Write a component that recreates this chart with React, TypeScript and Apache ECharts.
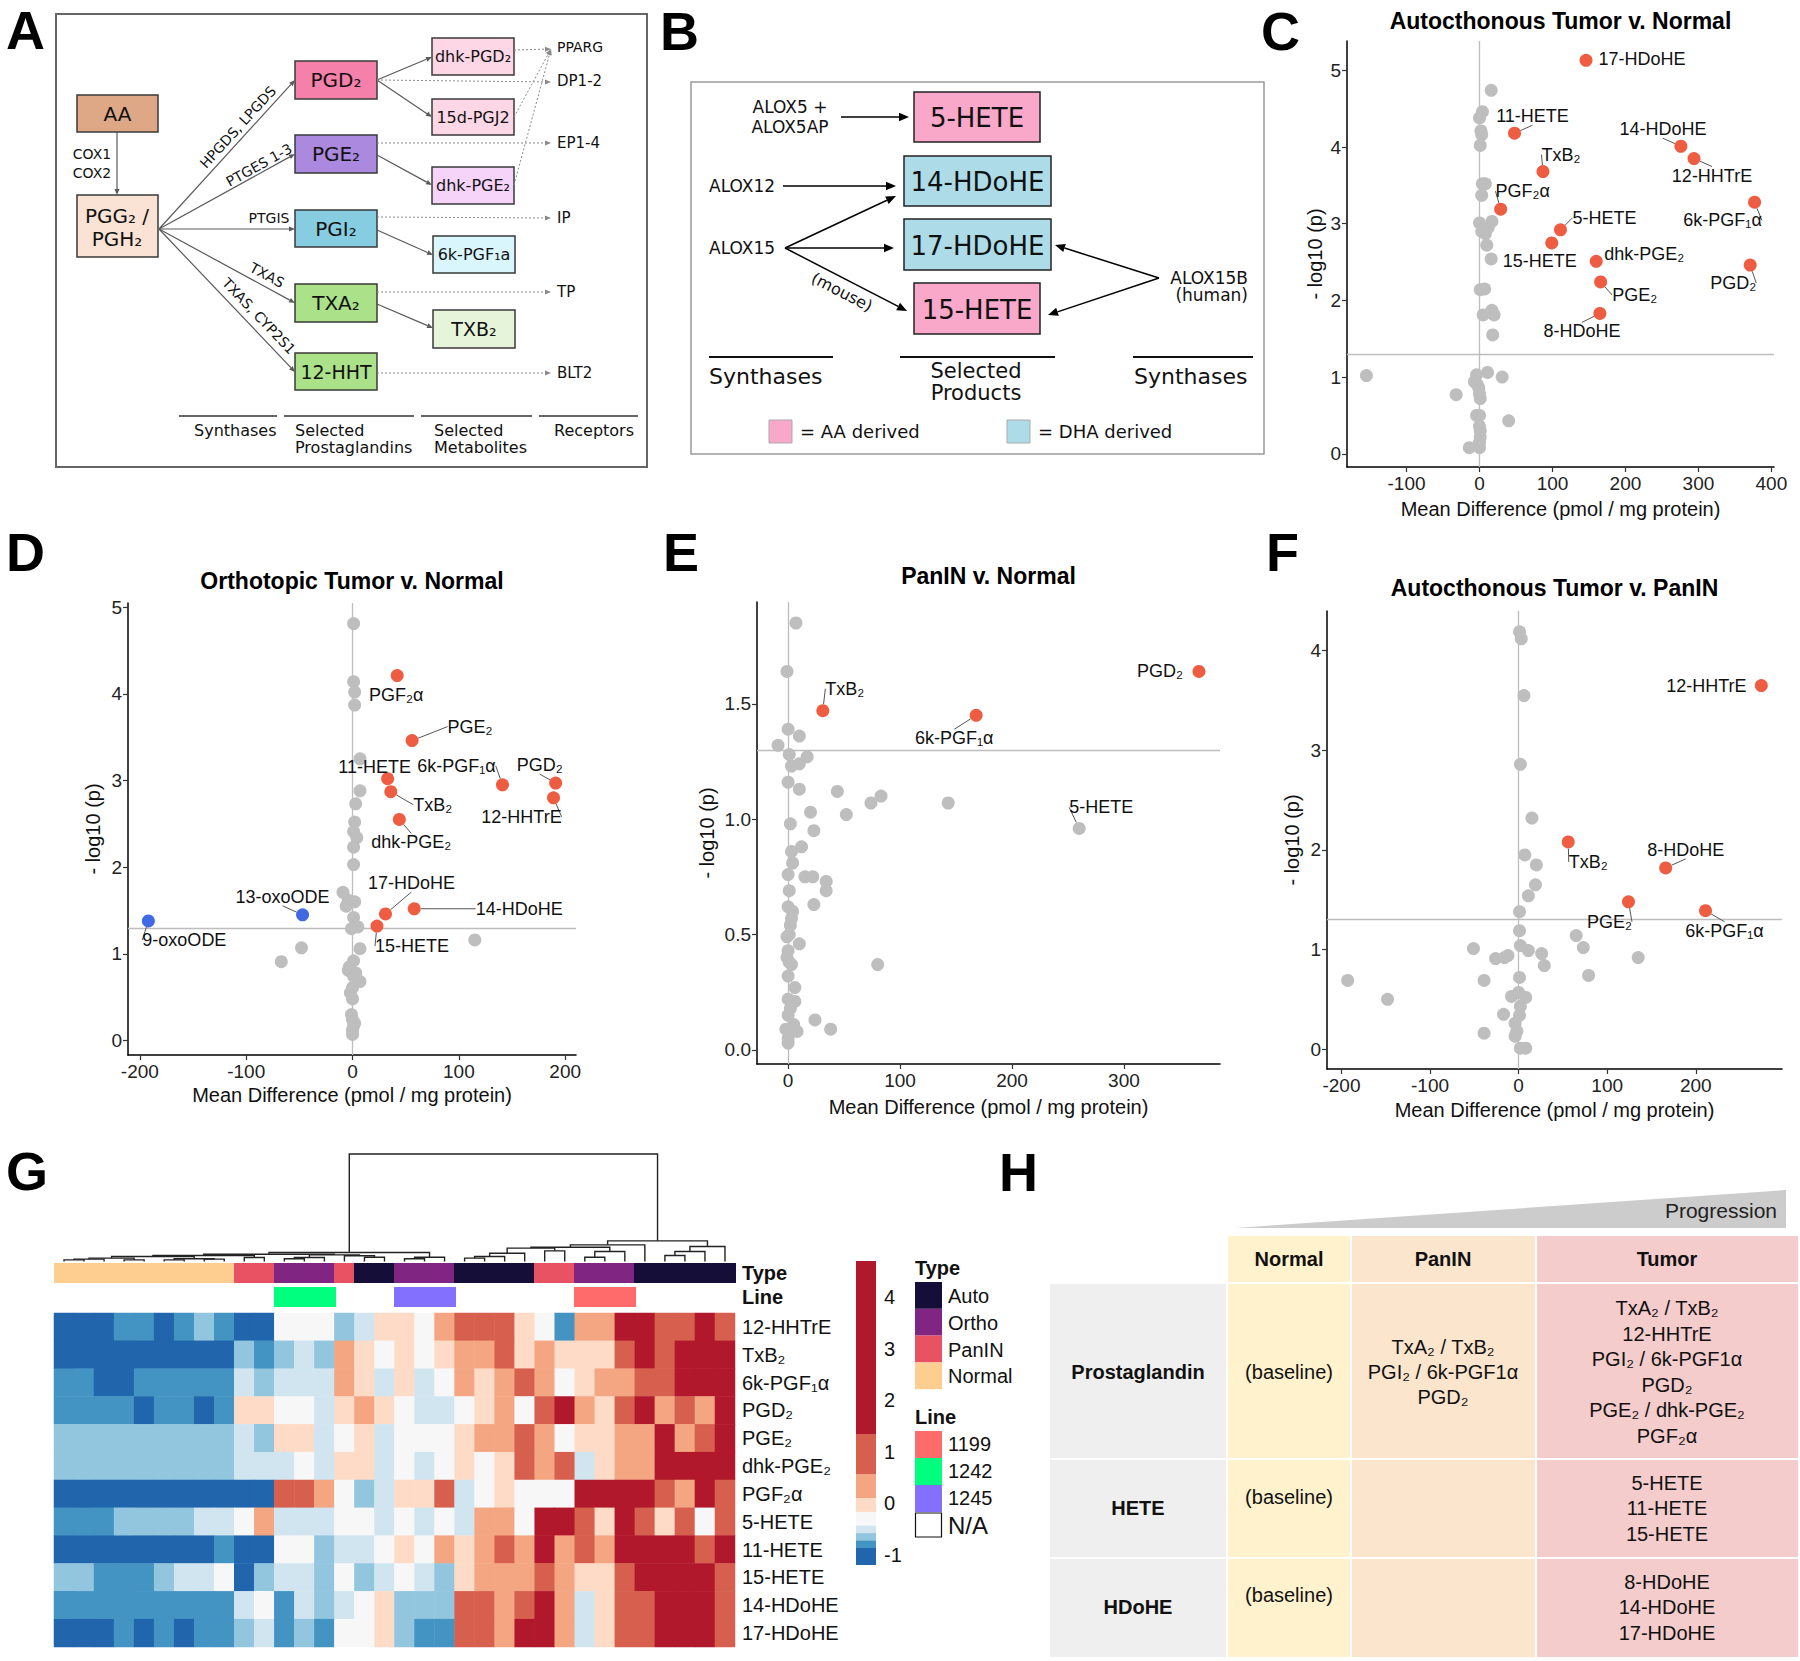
import React, { useEffect, useRef } from 'react';
import * as echarts from 'echarts';

const SANS = "'Liberation Sans', Arial, Helvetica, sans-serif";
const DJV = "'DejaVu Sans', sans-serif";
const RED = '#EE5C42';
const GRAY = '#BEBEBE';
const BLUE = '#4169E1';
const KIND_COLOR: any = { up: RED, down: BLUE, ns: GRAY };

// ---------------- Panel C: Autocthonous Tumor v. Normal ----------------
const cLabNames = ['17-HDoHE', '11-HETE', '14-HDoHE', '12-HHTrE', 'TxB₂', 'PGF₂α', '6k-PGF₁α', '5-HETE', '15-HETE', 'dhk-PGE₂', 'PGD₂', 'PGE₂', '8-HDoHE'];
const cLabX = [146, 48, 276, 294, 87, 29, 377, 111, 99, 160, 371, 166, 165];
const cLabY = [5.13, 4.18, 4.01, 3.85, 3.68, 3.19, 3.28, 2.92, 2.75, 2.51, 2.46, 2.24, 1.83];
const cLabKind = ['up', 'up', 'up', 'up', 'up', 'up', 'up', 'up', 'up', 'up', 'up', 'up', 'up'];
const cGrayX = [16, 4, 0, 2, 3, 1, 4, 8, 3, 0, 17, 12, 3, 8, 10, 16, 1, 7, 5, 17, 20, 18, -155, -4, 11, 31, -7, -3, -1, -32, 1, 0, -4, 0, 40, 0, 1, 1, 0, -14, 0];
const cGrayY = [4.74, 4.46, 4.38, 4.21, 4.16, 4.02, 3.52, 3.52, 3.37, 3.01, 3.03, 2.95, 2.90, 2.87, 2.72, 2.54, 2.14, 2.15, 1.81, 1.87, 1.81, 1.55, 1.02, 1.03, 1.06, 1.00, 0.94, 0.90, 0.86, 0.77, 0.72, 0.78, 0.50, 0.50, 0.43, 0.36, 0.30, 0.22, 0.15, 0.08, 0.08];
const cOffsets = [[56, -1, 0], [18, -17, 1], [-18, -17, 1], [18, 17, 1], [18, -17, 1], [22, -18, 1], [-32, 18, 1], [44, -12, 1], [-12, 18, 0], [48, -7, 0], [-17, 18, 1], [34, 13, 1], [-18, 18, 1]];

// ---------------- Panel D: Orthotopic Tumor v. Normal ----------------
const dLabNames = ['PGF₂α', 'PGE₂', '11-HETE', '6k-PGF₁α', 'PGD₂', 'TxB₂', '12-HHTrE', 'dhk-PGE₂', '17-HDoHE', '14-HDoHE', '15-HETE', '13-oxoODE', '9-oxoODE'];
const dLabX = [42, 56, 33, 141, 191, 36, 189, 44, 31, 58, 23, -47, -192];
const dLabY = [4.21, 3.46, 3.02, 2.95, 2.97, 2.87, 2.80, 2.55, 1.46, 1.52, 1.32, 1.45, 1.38];
const dLabKind = ['up', 'up', 'up', 'up', 'up', 'up', 'up', 'up', 'up', 'up', 'up', 'down', 'down'];
const dGrayX = [1, 1, 2, 2, 7, 7, 3, 2, 1, 4, 1, 1, -9, -4, 2, -6, 1, -1, 5, 115, -48, 7, -67, 1, -4, 1, 7, 0, 0, 0, 1, 0, 0, -3, 3, -2, 2, -1];
const dGrayY = [4.81, 4.14, 4.02, 3.87, 3.25, 2.88, 2.73, 2.52, 2.41, 2.34, 2.23, 2.03, 1.71, 1.62, 1.60, 1.55, 1.42, 1.29, 1.31, 1.16, 1.07, 1.06, 0.91, 0.92, 0.81, 0.74, 0.68, 0.61, 0.48, 0.24, 0.17, 0.07, 0.12, 0.85, 0.78, 0.55, 0.20, 0.30];
const dOffsets = [[-1, 19, 0], [58, -14, 1], [-13, -12, 0], [-46, -19, 1], [-16, -18, 1], [42, 13, 1], [-32, 19, 1], [12, 23, 1], [26, -31, 1], [105, 0, 1], [35, 20, 1], [-20, -18, 1], [36, 19, 1]];

// ---------------- Panel E: PanIN v. Normal ----------------
const eLabNames = ['TxB₂', '6k-PGF₁α', 'PGD₂', '5-HETE'];
const eLabX = [31, 168, 367, 260];
const eLabY = [1.47, 1.45, 1.64, 0.96];
const eLabKind = ['up', 'up', 'up', 'ns'];
const eGrayX = [7, -1, 0, 10, -9, 1, 17, 3, 10, 0, 10, 44, 74, 83, 143, 20, 52, 2, 23, 3, 12, 4, 0, 15, 22, 34, 34, 1, 23, 0, 4, 2, 1, -1, 10, 0, 1, 3, 80, 0, 6, 0, 6, 0, 24, 38, -2, 8, 0, 0, 3, -1, 2, 5];
const eGrayY = [1.85, 1.64, 1.39, 1.36, 1.32, 1.28, 1.27, 1.23, 1.24, 1.16, 1.13, 1.12, 1.07, 1.10, 1.07, 1.03, 1.02, 0.98, 0.95, 0.86, 0.88, 0.81, 0.76, 0.75, 0.75, 0.73, 0.69, 0.69, 0.63, 0.62, 0.60, 0.54, 0.50, 0.49, 0.46, 0.43, 0.38, 0.37, 0.37, 0.32, 0.27, 0.22, 0.21, 0.15, 0.13, 0.09, 0.09, 0.08, 0.05, 0.03, 0.57, 0.40, 0.18, 0.11];
const eOffsets = [[22, -22, 1], [-22, 23, 1], [-39, 0, 0], [22, -21, 1]];

// ---------------- Panel F: Autocthonous Tumor v. PanIN ----------------
const fLabNames = ['12-HHTrE', 'TxB₂', '8-HDoHE', 'PGE₂', '6k-PGF₁α'];
const fLabX = [274, 56, 166, 124, 211];
const fLabY = [3.65, 2.08, 1.82, 1.48, 1.39];
const fLabKind = ['up', 'up', 'up', 'up', 'up'];
const fGrayX = [1, 3, 6, 2, 15, 7, 20, 19, 11, 1, 1, 65, 73, -51, 2, 11, 26, -26, -16, -12, 29, 135, 79, 1, -193, -39, -148, -8, 8, 0, 2, -17, 1, -4, -39, -2, -4, 2, 8];
const fGrayY = [4.19, 4.12, 3.55, 2.86, 2.32, 1.95, 1.85, 1.65, 1.54, 1.38, 1.19, 1.14, 1.02, 1.01, 1.04, 0.99, 0.96, 0.91, 0.92, 0.94, 0.84, 0.92, 0.74, 0.72, 0.69, 0.69, 0.50, 0.53, 0.52, 0.57, 0.43, 0.35, 0.34, 0.26, 0.16, 0.18, 0.13, 0.01, 0.01];
const fOffsets = [[-55, 0, 0], [20, 20, 1], [20, -18, 1], [-19, 20, 1], [19, 20, 1]];

const P_THRESHOLD = -Math.log10(0.05);

// ---------------- Panel G: heatmap ----------------
const hmRows = ['12-HHTrE', 'TxB₂', '6k-PGF₁α', 'PGD₂', 'PGE₂', 'dhk-PGE₂', 'PGF₂α', '5-HETE', '11-HETE', '15-HETE', '14-HDoHE', '17-HDoHE'];
const hm12HHTrE = [-1, -1, -1, -0.8, -0.8, -1, -0.8, -0.65, -0.8, -1, -1, -0.3, -0.3, -0.3, -0.65, -0.5, 0, 0, -0.3, 0.3, 0.9, 0.9, 0.9, 0, -0.3, -0.8, 0.3, 0.3, 2.5, 2.5, 0.9, 0.9, 2.5, 0.9];
const hmTxB2 = [-1, -1, -1, -1, -1, -1, -1, -1, -1, -0.65, -0.8, -0.65, -0.5, -0.65, 0.3, 0, -0.3, 0, -0.3, 0, 0.3, 0.3, 0.9, 0, 0.3, 0, 0, 0, 0.9, 2.5, 0.9, 2.5, 2.5, 2.5];
const hm6kPGF1a = [-0.8, -0.8, -1, -1, -0.8, -0.8, -0.8, -0.8, -0.8, -0.5, -0.65, -0.5, -0.5, -0.5, 0.3, 0, -0.5, 0, -0.5, -0.3, 0.3, 0, 0.3, 0.9, 0.3, -0.3, 0, 0.3, 0.3, 0.9, 0.9, 2.5, 2.5, 2.5];
const hmPGD2 = [-0.8, -0.8, -0.8, -0.8, -1, -0.8, -0.8, -1, -0.8, 0, 0, -0.3, -0.3, -0.5, 0, 0.3, 0, -0.3, -0.5, -0.5, -0.3, 0, 0.3, -0.3, 0.9, 2.5, 0.3, 0, 0.9, 2.5, 0.3, 0.9, 0.3, 2.5];
const hmPGE2 = [-0.65, -0.65, -0.65, -0.65, -0.65, -0.65, -0.65, -0.65, -0.65, -0.5, -0.65, 0, 0, -0.5, -0.3, 0, -0.5, -0.3, -0.3, -0.3, 0, 0.3, 0.3, 0.9, 0.3, -0.3, 0, 0, 0.3, 0.3, 2.5, 0.3, 0.9, 2.5];
const hmDhkPGE2 = [-0.65, -0.65, -0.65, -0.65, -0.65, -0.65, -0.65, -0.65, -0.65, -0.5, -0.5, -0.5, -0.3, -0.5, 0, 0, -0.5, -0.3, -0.5, -0.3, 0, -0.3, 0, 0.9, 0.3, 0.9, -0.5, 0, 0.3, 0.3, 2.5, 2.5, 2.5, 2.5];
const hmPGF2a = [-1, -1, -1, -1, -1, -1, -1, -1, -1, -1, -1, 0.9, 0.9, 0.3, -0.3, -0.65, -0.5, 0, 0, 0.9, -0.5, -0.3, 0, -0.3, -0.3, -0.3, 2.5, 2.5, 2.5, 2.5, 0.9, 0.3, 2.5, 0.9];
const hm5HETE = [-0.8, -0.8, -0.8, -0.65, -0.65, -0.65, -0.65, -0.5, -0.5, -0.3, 0.3, -0.5, -0.5, -0.5, -0.3, -0.3, -0.5, -0.3, -0.5, -0.3, -0.5, 0.3, 0.3, -0.3, 2.5, 2.5, 0.9, 0, 2.5, 0.9, 0, 0.9, -0.3, 0.9];
const hm11HETE = [-1, -1, -1, -1, -1, -1, -1, -1, -0.8, -1, -1, -0.3, -0.3, -0.65, -0.5, -0.5, -0.3, 0, -0.3, 0.3, 0, 0.3, 0.9, 0.3, 2.5, 0.3, 0.9, 0.3, 2.5, 2.5, 2.5, 2.5, 0.9, 2.5];
const hm15HETE = [-0.65, -0.65, -0.8, -0.8, -0.8, -0.65, -0.5, -0.5, -0.3, -1, -0.65, -0.5, -0.5, -0.65, -0.3, -0.65, -0.5, -0.3, -0.5, -0.65, 0, 0.3, 0.3, 0.3, 0.9, 0.3, 0, 0, 0.9, 2.5, 2.5, 2.5, 2.5, 0.9];
const hm14HDoHE = [-0.8, -0.8, -0.8, -0.8, -0.8, -0.8, -0.8, -0.8, -0.8, -0.5, -0.3, -0.8, -0.5, -0.65, -0.5, -0.3, 0, -0.65, -0.65, -0.65, 0.9, 0.9, 0.3, 0.9, 2.5, 0.3, -0.5, 0, 0.9, 0.9, 2.5, 2.5, 2.5, 0.9];
const hm17HDoHE = [-1, -1, -1, -0.8, -1, -0.8, -1, -0.8, -0.8, -0.65, -0.5, -0.8, -0.65, -0.8, -0.3, -0.3, 0, -0.65, -0.8, -0.8, 0.9, 0.9, 0.3, 2.5, 2.5, 0.3, -0.5, 0, 0.9, 0.9, 2.5, 2.5, 2.5, 0.9];
const hmMatrix = [hm12HHTrE, hmTxB2, hm6kPGF1a, hmPGD2, hmPGE2, hmDhkPGE2, hmPGF2a, hm5HETE, hm11HETE, hm15HETE, hm14HDoHE, hm17HDoHE];

const sampleType = ['Normal', 'Normal', 'Normal', 'Normal', 'Normal', 'Normal', 'Normal', 'Normal', 'Normal', 'PanIN', 'PanIN', 'Ortho', 'Ortho', 'Ortho', 'PanIN', 'Auto', 'Auto', 'Ortho', 'Ortho', 'Ortho', 'Auto', 'Auto', 'Auto', 'Auto', 'PanIN', 'PanIN', 'Ortho', 'Ortho', 'Ortho', 'Auto', 'Auto', 'Auto', 'Auto', 'Auto'];
const sampleLine = ['N/A', 'N/A', 'N/A', 'N/A', 'N/A', 'N/A', 'N/A', 'N/A', 'N/A', 'N/A', 'N/A', '1242', '1242', '1242', 'N/A', 'N/A', 'N/A', '1245', '1245', '1245', 'N/A', 'N/A', 'N/A', 'N/A', 'N/A', 'N/A', '1199', '1199', '1199', 'N/A', 'N/A', 'N/A', 'N/A', 'N/A'];
const typeNames = ['Auto', 'Ortho', 'PanIN', 'Normal'];
const lineNames = ['1199', '1242', '1245', 'N/A'];
const TYPE_COLOR: any = { Auto: '#150E38', Ortho: '#802582', PanIN: '#E85262', Normal: '#FECD90' };
const LINE_COLOR: any = { '1199': '#FF6A6A', '1242': '#00FF7F', '1245': '#8470FF', 'N/A': 'rgba(255,255,255,0)' };

// column dendrogram: [left node, right node, height]; leaves 0..33, merge k = node 34+k
const dendroMerges = [
  [0, 1, 1.5], [34, 2, 2.2], [3, 4, 1.5], [35, 36, 3.1], [5, 6, 1.5], [7, 8, 2.2], [38, 39, 2.5], [37, 40, 4.6], [9, 10, 3.7], [41, 42, 5.6],
  [11, 12, 2.5], [44, 13, 3.7], [15, 16, 4.0], [14, 46, 5.3], [45, 47, 6.2], [43, 48, 6.8], [17, 18, 2.5], [50, 19, 4.0], [49, 51, 8.4],
  [20, 21, 3.1], [53, 22, 4.6], [54, 23, 7.7], [24, 25, 9.9], [55, 56, 12.4], [26, 27, 4.0], [58, 28, 9.3], [57, 59, 13.3], [60, 29, 15.5],
  [30, 31, 5.6], [62, 32, 9.3], [63, 33, 13.9], [61, 64, 19.2], [52, 65, 100],
];

const cbBreaks = [-1.2, -0.87, -0.72, -0.58, -0.43, -0.17, 0.1, 0.56, 1.34, 4.7];
const cbColors = ['#2166AC', '#4393C3', '#92C5DE', '#D1E5F0', '#F7F7F7', '#FDDBC7', '#F4A582', '#D6604D', '#B2182B'];
const cbTicks = [-1, 0, 1, 2, 3, 4];

// ---------------- helpers ----------------
function T(x: number, y: number, text: string, size: number, o: any = {}) {
  const align = o.align || 'center';
  const va = o.va || 'middle';
  const style: any = {
    text, fill: o.color || '#111',
    font: `${o.bold ? 'bold ' : ''}${size}px ${o.family || SANS}`,
    textAlign: align, textVerticalAlign: va, align, verticalAlign: va,
  };
  if (o.lh) style.lineHeight = o.lh;
  return { type: 'text', x, y, rotation: o.rot ? (o.rot * Math.PI) / 180 : 0, silent: true, z: 10, style };
}
function RECT(x: number, y: number, w: number, h: number, fill: string, stroke?: string, lw?: number) {
  const style: any = { fill };
  if (stroke) { style.stroke = stroke; style.lineWidth = lw || 1; }
  return { type: 'rect', silent: true, z: 5, shape: { x, y, width: w, height: h }, style };
}
function LINE(x1: number, y1: number, x2: number, y2: number, color: string, lw: number, dash?: number[]) {
  const style: any = { stroke: color, lineWidth: lw };
  if (dash) style.lineDash = dash;
  return { type: 'line', silent: true, z: 6, shape: { x1, y1, x2, y2 }, style };
}
function ARROW(x1: number, y1: number, x2: number, y2: number, color: string, lw: number, dash?: number[], head = 7) {
  const a = Math.atan2(y2 - y1, x2 - x1);
  const bx = x2 - head * Math.cos(a);
  const by = y2 - head * Math.sin(a);
  const w = head * 0.42;
  const nx = -Math.sin(a) * w;
  const ny = Math.cos(a) * w;
  return [
    LINE(x1, y1, bx, by, color, lw, dash),
    { type: 'polygon', silent: true, z: 6, shape: { points: [[x2, y2], [bx + nx, by + ny], [bx - nx, by - ny]] }, style: { fill: color } },
  ];
}

function buildOption() {
  const grid: any[] = [];
  const xAxis: any[] = [];
  const yAxis: any[] = [];
  const series: any[] = [];
  const els: any[] = [];

  // ---------- volcano panels ----------
  const panels = [
    { title: 'Autocthonous Tumor v. Normal', titleY: 21, g: { left: 1347, top: 41, width: 427, height: 426 }, xt: [-100, 0, 100, 200, 300, 400], yt: [0, 1, 2, 3, 4, 5], dec: 0, xGap: 32, yGap: 22, names: cLabNames, lx: cLabX, ly: cLabY, kind: cLabKind, gx: cGrayX, gy: cGrayY, off: cOffsets },
    { title: 'Orthotopic Tumor v. Normal', titleY: 581, g: { left: 128, top: 603, width: 448, height: 452 }, xt: [-200, -100, 0, 100, 200], yt: [0, 1, 2, 3, 4, 5], dec: 0, xGap: 30, yGap: 25, names: dLabNames, lx: dLabX, ly: dLabY, kind: dLabKind, gx: dGrayX, gy: dGrayY, off: dOffsets },
    { title: 'PanIN v. Normal', titleY: 576, g: { left: 757, top: 602, width: 463, height: 462 }, xt: [0, 100, 200, 300], yt: [0, 0.5, 1, 1.5], dec: 1, xGap: 33, yGap: 40, names: eLabNames, lx: eLabX, ly: eLabY, kind: eLabKind, gx: eGrayX, gy: eGrayY, off: eOffsets },
    { title: 'Autocthonous Tumor v. PanIN', titleY: 588, g: { left: 1327, top: 611, width: 455, height: 458 }, xt: [-200, -100, 0, 100, 200], yt: [0, 1, 2, 3, 4], dec: 0, xGap: 31, yGap: 25, names: fLabNames, lx: fLabX, ly: fLabY, kind: fLabKind, gx: fGrayX, gy: fGrayY, off: fOffsets },
  ];
  panels.forEach((p, gi) => {
    const allX = [...p.gx, ...p.lx];
    const allY = [...p.gy, ...p.ly];
    const x0 = Math.min(...allX), x1 = Math.max(...allX);
    const y0 = Math.min(...allY), y1 = Math.max(...allY);
    const ex = (x1 - x0) * 0.05, ey = (y1 - y0) * 0.05;
    grid.push({ ...p.g });
    const axisCommon = {
      gridIndex: gi, type: 'value',
      axisLine: { show: true, onZero: false, lineStyle: { color: '#000', width: 1.5 } },
      splitLine: { show: false },
      nameLocation: 'middle',
      nameTextStyle: { fontSize: 20, color: '#111', fontFamily: SANS },
    };
    xAxis.push({
      ...axisCommon, min: x0 - ex, max: x1 + ex,
      axisTick: { show: true, length: 5, lineStyle: { color: '#333', width: 1.2 }, customValues: p.xt },
      axisLabel: { fontSize: 19, color: '#222', fontFamily: SANS, margin: 7, customValues: p.xt },
      name: 'Mean Difference (pmol / mg protein)', nameGap: p.xGap,
    });
    yAxis.push({
      ...axisCommon, min: y0 - ey, max: y1 + ey,
      axisTick: { show: true, length: 5, lineStyle: { color: '#333', width: 1.2 }, customValues: p.yt },
      axisLabel: { fontSize: 19, color: '#222', fontFamily: SANS, margin: 6, customValues: p.yt, formatter: (v: number) => v.toFixed(p.dec) },
      name: '- log10 (p)', nameGap: p.yGap, nameRotate: 90,
    });
    series.push({
      type: 'scatter', xAxisIndex: gi, yAxisIndex: gi, data: [], silent: true,
      markLine: {
        silent: true, symbol: 'none', z: 1, animation: false,
        label: { show: false },
        lineStyle: { color: '#BDBDBD', type: 'solid', width: 1.3 },
        data: [{ xAxis: 0 }, { yAxis: P_THRESHOLD }],
      },
    });
    series.push({
      type: 'scatter', xAxisIndex: gi, yAxisIndex: gi, z: 2, silent: true,
      symbolSize: 13, itemStyle: { color: GRAY, opacity: 1 },
      data: p.gx.map((x, i) => [x, p.gy[i]]),
    });
    const off = p.off;
    series.push({
      type: 'scatter', xAxisIndex: gi, yAxisIndex: gi, z: 3, silent: true,
      symbolSize: 13,
      data: p.lx.map((x, i) => ({
        name: p.names[i], value: [x, p.ly[i]],
        itemStyle: { color: KIND_COLOR[p.kind[i]], opacity: 1 },
        labelLine: { show: !!off[i][2] },
      })),
      label: { show: true, formatter: '{b}', fontSize: 18, color: '#111', fontFamily: SANS },
      labelLine: { show: true, lineStyle: { color: '#555', width: 1 } },
      labelLayout: (params: any) => {
        const o = off[params.dataIndex];
        const r = params.rect;
        return { x: r.x + r.width / 2 + o[0], y: r.y + r.height / 2 + o[1], align: 'center', verticalAlign: 'middle' };
      },
    });
    els.push(T(p.g.left + p.g.width / 2, p.titleY, p.title, 23, { bold: true, color: '#000' }));
  });

  // ---------- heatmap block (grid 4..8) ----------
  const HM_LEFT = 54, HM_W = 681;
  const ncol = hmMatrix[0].length;
  const colIds = Array.from({ length: ncol }, (_, i) => String(i));

  // 4: dendrogram
  grid.push({ left: HM_LEFT, top: 1154, width: HM_W, height: 107.5 });
  xAxis.push({ gridIndex: 4, type: 'value', min: -0.5, max: ncol - 0.5, show: false });
  yAxis.push({ gridIndex: 4, type: 'value', min: 0, max: 100, show: false });
  const pos: number[] = [];
  const ht: number[] = [];
  for (let i = 0; i < ncol; i++) { pos.push(i); ht.push(0); }
  const dendroSegs: number[][] = [];
  dendroMerges.forEach((m) => {
    const [a, b, h] = m;
    dendroSegs.push([pos[a], ht[a], pos[b], ht[b], h]);
    pos.push((pos[a] + pos[b]) / 2);
    ht.push(h);
  });
  series.push({
    type: 'custom', xAxisIndex: 4, yAxisIndex: 4, silent: true, data: dendroSegs,
    renderItem: (params: any, api: any) => {
      const p1 = api.coord([api.value(0), api.value(1)]);
      const p2 = api.coord([api.value(0), api.value(4)]);
      const p3 = api.coord([api.value(2), api.value(4)]);
      const p4 = api.coord([api.value(2), api.value(3)]);
      return { type: 'polyline', shape: { points: [p1, p2, p3, p4] }, style: { stroke: '#222', lineWidth: 1.4, fill: 'none' } };
    },
  });

  // annotation bar renderer (seamless cells)
  const annotRender = (colorOf: (k: number) => string) => (params: any, api: any) => {
    const c = api.value(1);
    const col = colorOf(c);
    if (!col) return null;
    const top = api.coord([api.value(0), 1]);
    const bot = api.coord([api.value(0), 0]);
    const w = api.size([1, 0])[0];
    const x = Math.floor(top[0] - w / 2);
    return { type: 'rect', shape: { x, y: top[1], width: Math.ceil(w) + 1, height: bot[1] - top[1] }, style: { fill: col } };
  };

  // 5: type bar
  grid.push({ left: HM_LEFT, top: 1263, width: HM_W, height: 20 });
  xAxis.push({ gridIndex: 5, type: 'category', data: colIds, show: false });
  yAxis.push({ gridIndex: 5, type: 'value', min: 0, max: 1, show: false });
  series.push({
    type: 'custom', xAxisIndex: 5, yAxisIndex: 5, silent: true,
    data: sampleType.map((t, i) => [i, typeNames.indexOf(t)]),
    renderItem: annotRender((k) => TYPE_COLOR[typeNames[k]]),
  });
  // 6: line bar
  grid.push({ left: HM_LEFT, top: 1287, width: HM_W, height: 20 });
  xAxis.push({ gridIndex: 6, type: 'category', data: colIds, show: false });
  yAxis.push({ gridIndex: 6, type: 'value', min: 0, max: 1, show: false });
  series.push({
    type: 'custom', xAxisIndex: 6, yAxisIndex: 6, silent: true,
    data: sampleLine.map((t, i) => [i, lineNames.indexOf(t)]),
    renderItem: annotRender((k) => (lineNames[k] === 'N/A' ? '' : LINE_COLOR[lineNames[k]])),
  });
  // 7: heatmap
  grid.push({ left: HM_LEFT, top: 1313, width: HM_W, height: 334 });
  xAxis.push({ gridIndex: 7, type: 'category', data: colIds, show: false });
  yAxis.push({
    gridIndex: 7, type: 'category', data: hmRows, inverse: true, position: 'right',
    axisLine: { show: false }, axisTick: { show: false },
    axisLabel: { fontSize: 20, color: '#111', fontFamily: SANS, margin: 7 },
  });
  const hmData: any[] = [];
  hmMatrix.forEach((row, r) => row.forEach((v, c) => hmData.push([c, r, v])));
  const hmIndex = series.length;
  series.push({ type: 'heatmap', xAxisIndex: 7, yAxisIndex: 7, silent: true, data: hmData, itemStyle: { borderWidth: 0 } });

  // 8: colour bar
  grid.push({ left: 856, top: 1261, width: 20, height: 304 });
  xAxis.push({ gridIndex: 8, type: 'value', min: 0, max: 1, show: false });
  yAxis.push({
    gridIndex: 8, type: 'value', min: cbBreaks[0], max: cbBreaks[cbBreaks.length - 1], position: 'right',
    axisLine: { show: false }, axisTick: { show: false }, splitLine: { show: false },
    axisLabel: { fontSize: 20, color: '#111', fontFamily: SANS, margin: 8, customValues: cbTicks },
  });
  series.push({
    type: 'custom', xAxisIndex: 8, yAxisIndex: 8, silent: true,
    data: cbColors.map((_, i) => [cbBreaks[i], cbBreaks[i + 1], i]),
    renderItem: (params: any, api: any) => {
      const top = api.coord([0, api.value(1)]);
      const bot = api.coord([1, api.value(0)]);
      return { type: 'rect', shape: { x: top[0], y: top[1], width: bot[0] - top[0], height: bot[1] - top[1] }, style: { fill: cbColors[api.value(2)] } };
    },
  });

  // heatmap annotations & legend
  els.push(T(742, 1273, 'Type', 20, { bold: true, align: 'left' }));
  els.push(T(742, 1297, 'Line', 20, { bold: true, align: 'left' }));
  els.push(T(915, 1268, 'Type', 20, { bold: true, align: 'left' }));
  typeNames.forEach((t, i) => {
    els.push(RECT(915, 1282 + i * 26.8, 27, 26.8, TYPE_COLOR[t]));
    els.push(T(948, 1296 + i * 26.8, t, 20, { align: 'left' }));
  });
  els.push(T(915, 1417, 'Line', 20, { bold: true, align: 'left' }));
  lineNames.forEach((t, i) => {
    if (t === 'N/A') {
      els.push(RECT(915.5, 1513, 26, 24, '#fff', '#111', 1.2));
      els.push(T(948, 1525, t, 24, { align: 'left' }));
    } else {
      els.push(RECT(915, 1431 + i * 27, 27, 27, LINE_COLOR[t]));
      els.push(T(948, 1444 + i * 27, t, 20, { align: 'left' }));
    }
  });

  // ---------- panel letters ----------
  const letters = [['A', 6, 30], ['B', 660, 31], ['C', 1261, 31], ['D', 6, 552], ['E', 663, 552], ['F', 1266, 552], ['G', 6, 1171], ['H', 999, 1172]];
  letters.forEach((l: any) => els.push(T(l[1], l[2], l[0], 54, { bold: true, align: 'left', color: '#000' })));

  // ---------- Panel A ----------
  els.push(RECT(56, 14, 591, 453, 'none', '#666', 2));
  const aBoxes: any[] = [
    [77, 95, 81, 37, '#DEA887', 'AA', 20],
    [295, 61, 82, 38, '#F580AA', 'PGD₂', 20],
    [295, 135, 82, 38, '#AA89DE', 'PGE₂', 20],
    [295, 210, 82, 37, '#87CDE1', 'PGI₂', 20],
    [295, 284, 82, 38, '#AAE189', 'TXA₂', 20],
    [295, 353, 82, 37, '#AAE189', '12-HHT', 19],
    [432, 38, 82, 37, '#FDD7E6', 'dhk-PGD₂', 16],
    [432, 99, 82, 36, '#FDD7E6', '15d-PGJ2', 16],
    [432, 167, 82, 37, '#F6D4FA', 'dhk-PGE₂', 16],
    [433, 236, 82, 37, '#D9F6FD', '6k-PGF₁a', 16],
    [433, 310, 82, 38, '#E6F5DA', 'TXB₂', 19],
  ];
  aBoxes.forEach((b) => {
    els.push(RECT(b[0], b[1], b[2], b[3], b[4], '#3a3a3a', 1.5));
    els.push(T(b[0] + b[2] / 2, b[1] + b[3] / 2, b[5], b[6], { family: DJV }));
  });
  els.push(RECT(77, 195, 81, 62, '#FAE3D5', '#3a3a3a', 1.5));
  els.push(T(117, 227, 'PGG₂ /\nPGH₂', 20, { family: DJV, lh: 23 }));
  const AC = '#5a5a5a';
  els.push(...ARROW(117, 132, 117, 195, AC, 1.2, undefined, 6));
  els.push(T(92, 163, 'COX1\nCOX2', 14, { family: DJV, lh: 19 }));
  [[295, 80], [295, 154], [295, 229], [295, 303], [295, 372]].forEach((t) => els.push(...ARROW(159, 229, t[0], t[1], AC, 1.2, undefined, 6)));
  els.push(...ARROW(377, 80, 432, 57, AC, 1.2, undefined, 6));
  els.push(...ARROW(377, 80, 432, 117, AC, 1.2, undefined, 6));
  els.push(...ARROW(377, 155, 432, 185, AC, 1.2, undefined, 6));
  els.push(...ARROW(377, 230, 433, 255, AC, 1.2, undefined, 6));
  els.push(...ARROW(377, 304, 433, 328, AC, 1.2, undefined, 6));
  const DC = '#8a8a8a';
  const dot = [2, 2];
  [[80, 82], [143, 143], [217, 218], [292, 292], [373, 373]].forEach((r) => els.push(...ARROW(377, r[0], 551, r[1], DC, 1, dot, 6)));
  [[514, 50], [514, 117], [514, 185]].forEach((s) => els.push(...ARROW(s[0], s[1], 551, 49, DC, 1, dot, 6)));
  const receptors: any[] = [['PPARG', 47, 14], ['DP1-2', 81, 15], ['EP1-4', 143, 15], ['IP', 218, 15], ['TP', 292, 15], ['BLT2', 373, 15]];
  receptors.forEach((r) => els.push(T(557, r[1], r[0], r[2], { family: DJV, align: 'left' })));
  els.push(T(238, 127, 'HPGDS, LPGDS', 14, { family: DJV, rot: 47.6 }));
  els.push(T(259, 165, 'PTGES 1-3', 14, { family: DJV, rot: 28.9 }));
  els.push(T(269, 218, 'PTGIS', 14, { family: DJV }));
  els.push(T(267, 275, 'TXAS', 14, { family: DJV, rot: -28.6 }));
  els.push(T(259, 316, 'TXAS, CYP2S1', 14, { family: DJV, rot: -46.4 }));
  [[179, 277], [284, 414], [421, 532], [539, 638]].forEach((s) => els.push(LINE(s[0], 416, s[1], 416, '#333', 1.5)));
  els.push(T(194, 430, 'Synthases', 16, { family: DJV, align: 'left' }));
  els.push(T(295, 439, 'Selected\nProstaglandins', 16, { family: DJV, align: 'left', lh: 17 }));
  els.push(T(434, 439, 'Selected\nMetabolites', 16, { family: DJV, align: 'left', lh: 17 }));
  els.push(T(554, 430, 'Receptors', 16, { family: DJV, align: 'left' }));

  // ---------- Panel B ----------
  els.push(RECT(691, 82, 573, 372, 'none', '#9a9a9a', 1.5));
  const bBoxes: any[] = [
    [914, 92, 126, 50, '#F9A8CA', '5-HETE'],
    [904, 156, 147, 50, '#ADDCE8', '14-HDoHE'],
    [904, 219, 147, 51, '#ADDCE8', '17-HDoHE'],
    [914, 283, 126, 51, '#F9A8CA', '15-HETE'],
  ];
  bBoxes.forEach((b) => {
    els.push(RECT(b[0], b[1], b[2], b[3], b[4], '#222', 1.5));
    els.push(T(b[0] + b[2] / 2, b[1] + b[3] / 2 + 1, b[5], 26, { family: DJV }));
  });
  const BK = '#000';
  els.push(...ARROW(841, 117, 909, 117, BK, 1.5, undefined, 10));
  els.push(...ARROW(783, 186, 896, 186, BK, 1.5, undefined, 10));
  els.push(...ARROW(785, 248, 896, 196, BK, 1.5, undefined, 10));
  els.push(...ARROW(785, 248, 894, 248, BK, 1.5, undefined, 10));
  els.push(...ARROW(785, 248, 907, 311, BK, 1.5, undefined, 10));
  els.push(...ARROW(1159, 278, 1055, 245, BK, 1.5, undefined, 10));
  els.push(...ARROW(1159, 278, 1048, 315, BK, 1.5, undefined, 10));
  els.push(T(790, 117, 'ALOX5 +\nALOX5AP', 17, { family: DJV, lh: 20 }));
  els.push(T(709, 186, 'ALOX12', 17, { family: DJV, align: 'left' }));
  els.push(T(709, 248, 'ALOX15', 17, { family: DJV, align: 'left' }));
  els.push(T(1248, 286, 'ALOX15B\n(human)', 17, { family: DJV, align: 'right', lh: 17 }));
  els.push(T(842, 292, '(mouse)', 16, { family: DJV, rot: -27.3 }));
  [[709, 833], [900, 1055], [1133, 1253]].forEach((s) => els.push(LINE(s[0], 357, s[1], 357, '#111', 2)));
  els.push(T(709, 376, 'Synthases', 22, { family: DJV, align: 'left' }));
  els.push(T(976, 382, 'Selected\nProducts', 21, { family: DJV, lh: 21.5 }));
  els.push(T(1134, 376, 'Synthases', 22, { family: DJV, align: 'left' }));
  els.push(RECT(769, 420, 23, 23, '#F9A8CA', '#aaa', 1));
  els.push(T(800, 431, '= AA derived', 18, { family: DJV, align: 'left' }));
  els.push(RECT(1007, 420, 23, 23, '#ADDCE8', '#aaa', 1));
  els.push(T(1038, 431, '= DHA derived', 18, { family: DJV, align: 'left' }));

  // ---------- Panel H ----------
  els.push({ type: 'polygon', silent: true, z: 5, shape: { points: [[1235, 1228], [1786, 1190], [1786, 1228]] }, style: { fill: '#CCCCCC' } });
  els.push(T(1777, 1210, 'Progression', 21, { align: 'right', color: '#222' }));
  const cols = [[1050, 176, '#EFEFEF'], [1228, 122, '#FFF2CC'], [1352, 183, '#FCE5CD'], [1537, 261, '#F4CCCC']];
  const rows = [[1236, 46], [1284, 174], [1460, 97], [1559, 98]];
  rows.forEach((r: any, ri) => cols.forEach((c: any, ci) => {
    if (ri === 0 && ci === 0) return;
    els.push(RECT(c[0], r[0], c[1], r[1], c[2]));
  }));
  els.push(T(1289, 1259, 'Normal', 20, { bold: true }));
  els.push(T(1443, 1259, 'PanIN', 20, { bold: true }));
  els.push(T(1667, 1259, 'Tumor', 20, { bold: true }));
  els.push(T(1138, 1372, 'Prostaglandin', 20, { bold: true }));
  els.push(T(1138, 1508, 'HETE', 20, { bold: true }));
  els.push(T(1138, 1607, 'HDoHE', 20, { bold: true }));
  els.push(T(1289, 1372, '(baseline)', 20));
  els.push(T(1289, 1497, '(baseline)', 20));
  els.push(T(1289, 1595, '(baseline)', 20));
  els.push(T(1443, 1372, 'TxA₂ / TxB₂\nPGI₂ / 6k-PGF1α\nPGD₂', 20, { lh: 25 }));
  els.push(T(1667, 1372, 'TxA₂ / TxB₂\n12-HHTrE\nPGI₂ / 6k-PGF1α\nPGD₂\nPGE₂ / dhk-PGE₂\nPGF₂α', 20, { lh: 25.5 }));
  els.push(T(1667, 1508, '5-HETE\n11-HETE\n15-HETE', 20, { lh: 25.5 }));
  els.push(T(1667, 1607, '8-HDoHE\n14-HDoHE\n17-HDoHE', 20, { lh: 25.5 }));

  return {
    animation: false,
    backgroundColor: '#fff',
    grid, xAxis, yAxis, series,
    visualMap: [{
      type: 'piecewise', show: false, seriesIndex: hmIndex, dimension: 2,
      pieces: cbColors.map((c, i) => (i === 0 ? { lt: cbBreaks[1], color: c } : i === cbColors.length - 1 ? { gte: cbBreaks[i], color: c } : { gte: cbBreaks[i], lt: cbBreaks[i + 1], color: c })),
    }],
    graphic: { elements: els },
  };
}

export default function App() {
  const ref = useRef<HTMLDivElement>(null);
  useEffect(() => {
    const chart = echarts.init(ref.current as HTMLDivElement, null, { renderer: 'svg' });
    chart.setOption(buildOption() as any);
    return () => chart.dispose();
  }, []);
  return <div ref={ref} style={{ position: 'absolute', left: 0, top: 0, width: 1800, height: 1661, background: '#fff' }} />;
}
